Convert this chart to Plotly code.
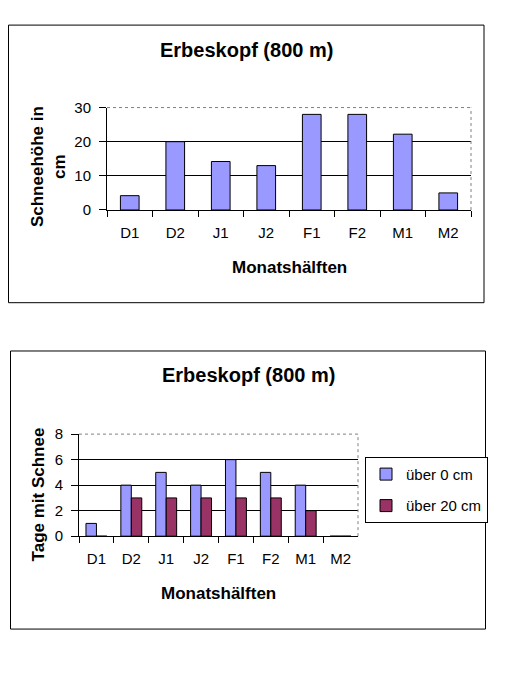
import plotly.graph_objects as go

# ---- data ----
categories = ["D1", "D2", "J1", "J2", "F1", "F2", "M1", "M2"]
schneehoehe = [4.2, 20, 14.2, 13, 28, 28, 22.2, 5]
tage_ueber_0 = [1, 4, 5, 4, 6, 5, 4, 0]
tage_ueber_20 = [0, 3, 3, 3, 3, 3, 2, 0]
ticks_top = [0, 10, 20, 30]
ticks_bottom = [0, 2, 4, 6, 8]
chart_title = "Erbeskopf (800 m)"

W, H = 510, 700
FONT = "Liberation Sans, Arial, sans-serif"
BLUE = "#9999FF"
MAROON = "#993366"


def px(x):
    return x / W


def py(y):
    return 1 - y / H


OUTLINE = dict(color="black", width=1)

fig = go.Figure()

fig.add_trace(go.Bar(
    x=categories, y=schneehoehe, width=0.41,
    marker=dict(color=BLUE, line=OUTLINE),
    xaxis="x", yaxis="y", showlegend=False, name="Schneehöhe"))

fig.add_trace(go.Bar(
    x=categories, y=tage_ueber_0, width=0.3, offset=-0.3,
    marker=dict(color=BLUE, line=OUTLINE),
    xaxis="x2", yaxis="y2", name="über 0 cm", legendgroup="a"))
fig.add_trace(go.Bar(
    x=categories, y=tage_ueber_20, width=0.3, offset=0,
    marker=dict(color=MAROON, line=OUTLINE),
    xaxis="x2", yaxis="y2", name="über 20 cm", legendgroup="b"))

common_x = dict(type="category", tickson="boundaries", ticks="outside",
                ticklen=6, tickcolor="black", showline=True, linecolor="black",
                linewidth=1, showgrid=False, zeroline=False,
                tickfont=dict(family=FONT, size=15, color="black"),
                ticklabelstandoff=9,
                range=[-0.5, 7.5], fixedrange=True)
common_y = dict(ticks="outside", ticklen=7, tickcolor="black", showline=True,
                linecolor="black", linewidth=1, showgrid=False, zeroline=False,
                tickfont=dict(family=FONT, size=15, color="black"),
                ticklabelstandoff=5, fixedrange=True)

fig.update_layout(
    width=W, height=H, margin=dict(l=0, r=0, t=0, b=0),
    paper_bgcolor="white", plot_bgcolor="white",
    barmode="overlay",
    xaxis=dict(domain=[px(107), px(471)], anchor="y", **common_x),
    yaxis=dict(domain=[py(206), py(101)], anchor="x", range=[0, 30],
               tickvals=ticks_top,
               minor=dict(tickvals=ticks_top[1:-1], showgrid=True,
                          gridcolor="black", gridwidth=1, ticks=""),
               **common_y),
    xaxis2=dict(domain=[px(79), px(358)], anchor="y2", **common_x),
    yaxis2=dict(domain=[py(540.3), py(435.7)], anchor="x2", range=[0, 8],
                tickvals=ticks_bottom,
                minor=dict(tickvals=ticks_bottom[1:-1], showgrid=True,
                           gridcolor="black", gridwidth=1, ticks=""),
                **common_y),
    legend=dict(x=px(365), y=py(459), xanchor="left", yanchor="top",
                bordercolor="black", borderwidth=1, bgcolor="white",
                font=dict(family=FONT, size=15, color="black"),
                tracegroupgap=9, itemwidth=30),
    showlegend=True,
)

# outer frames and dotted plot-area borders
shapes = [
    dict(type="rect", xref="paper", yref="paper", x0=px(8.5), x1=px(484),
         y0=py(301), y1=py(16.5), line=dict(color="black", width=1)),
    dict(type="rect", xref="paper", yref="paper", x0=px(10.5), x1=px(485.5),
         y0=py(635.5), y1=py(350.5), line=dict(color="black", width=1)),
]
for xr, yr in (("x", "y"), ("x2", "y2")):
    shapes.append(dict(type="line", xref=f"{xr} domain", yref=f"{yr} domain",
                       x0=0, x1=1, y0=1, y1=1, layer="above",
                       line=dict(color="#808080", width=1, dash="dot")))
    shapes.append(dict(type="line", xref=f"{xr} domain", yref=f"{yr} domain",
                       x0=1, x1=1, y0=0, y1=1, layer="above",
                       line=dict(color="#808080", width=1, dash="dot")))
fig.update_layout(shapes=shapes)

bold = dict(family=FONT, size=17, color="black")
title_font = dict(family=FONT, size=20, color="black")
annotations = [
    dict(text=f"<b>{chart_title}</b>", x=px(246), y=py(42), font=title_font),
    dict(text="<b>Monatshälften</b>", x=px(289), y=py(265), font=bold),
    dict(text="<b>Schneehöhe in<br>cm</b>", x=px(48.5), y=py(161.5),
         font=bold, textangle=-90),
    dict(text=f"<b>{chart_title}</b>", x=px(248.5), y=py(375), font=title_font),
    dict(text="<b>Monatshälften</b>", x=px(218), y=py(599), font=bold),
    dict(text="<b>Tage mit Schnee</b>", x=px(38), y=py(497.5),
         font=bold, textangle=-90),
]
for a in annotations:
    a.update(xref="paper", yref="paper", xanchor="center", yanchor="middle",
             showarrow=False)
fig.update_layout(annotations=annotations)

fig.write_html("out.html", config={"displayModeBar": False},
               post_script="document.body.style.margin='0';"
                           "document.body.style.overflow='hidden';")
